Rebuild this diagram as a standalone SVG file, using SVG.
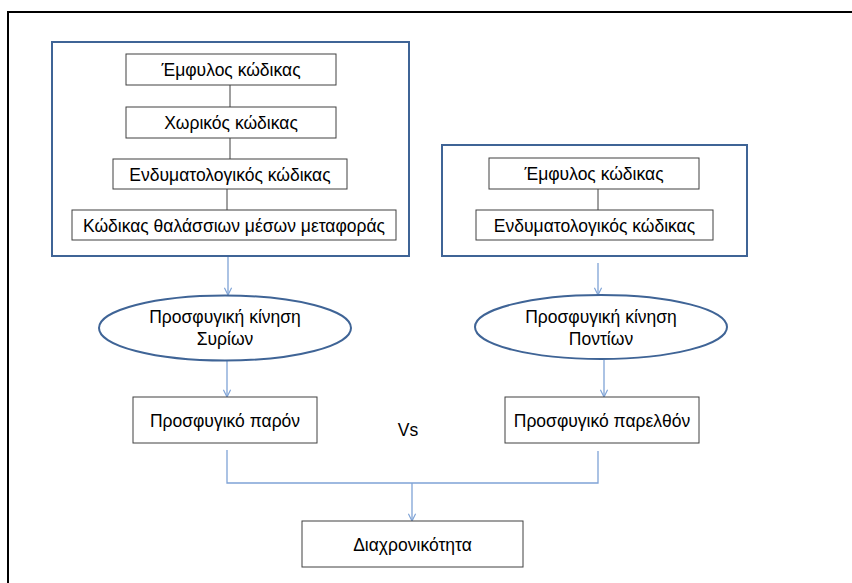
<svg xmlns="http://www.w3.org/2000/svg" width="852" height="583" viewBox="0 0 852 583">
<defs>
<style>
.box{fill:#fff;stroke:#404040;stroke-width:1}
.group{fill:none;stroke:#3f6496;stroke-width:2}
.ell{fill:#fff;stroke:#3f6496;stroke-width:2}
.t{font-family:"Liberation Sans",Arial,sans-serif;font-size:17.5px;fill:#000;text-anchor:middle}
.ln{stroke:#404040;stroke-width:1;fill:none}
.bl{stroke:#7fa3d6;stroke-width:1.3;fill:none}
</style>
<marker id="ah" viewBox="0 0 10 10" refX="9" refY="5" markerWidth="9" markerHeight="9" markerUnits="userSpaceOnUse" orient="auto">
<path d="M1,1 L9,5 L1,9" fill="none" stroke="#7fa3d6" stroke-width="1.3"/>
</marker>
</defs>
<rect width="852" height="583" fill="#fff"/>
<path d="M8,583 V12 H852" fill="none" stroke="#000" stroke-width="2"/>
<g id="group-left"><rect class="group" x="52" y="42" width="357" height="214"/></g>
<g id="group-right"><rect class="group" x="442" y="145" width="305" height="111"/></g>
<g id="connectors">
<line class="ln" x1="230" y1="85" x2="230" y2="107"/>
<line class="ln" x1="230" y1="138" x2="230" y2="159"/>
<line class="ln" x1="227" y1="189" x2="227" y2="210"/>
<line class="ln" x1="598" y1="189" x2="598" y2="210"/>
<line class="bl" x1="228" y1="257" x2="228" y2="295" marker-end="url(#ah)"/>
<line class="bl" x1="598" y1="263" x2="598" y2="295" marker-end="url(#ah)"/>
<line class="bl" x1="227" y1="361" x2="227" y2="397" marker-end="url(#ah)"/>
<line class="bl" x1="604" y1="360" x2="604" y2="397" marker-end="url(#ah)"/>
<path class="bl" d="M227,450 V483 H598 V451"/>
<line class="bl" x1="412" y1="483" x2="412" y2="521" marker-end="url(#ah)"/>
</g>
<g id="n1"><rect class="box" x="126" y="54" width="210" height="31"/><text class="t" x="231" y="76">Έμφυλος κώδικας</text></g>
<g id="n2"><rect class="box" x="126" y="107" width="210" height="31"/><text class="t" x="231" y="129">Χωρικός κώδικας</text></g>
<g id="n3"><rect class="box" x="113" y="159" width="234" height="30"/><text class="t" x="230" y="180.5">Ενδυματολογικός κώδικας</text></g>
<g id="n4"><rect class="box" x="72" y="210" width="324" height="30"/><text class="t" x="234" y="231.5">Κώδικας θαλάσσιων μέσων μεταφοράς</text></g>
<g id="n5"><rect class="box" x="489" y="158" width="210" height="31"/><text class="t" x="594" y="180">Έμφυλος κώδικας</text></g>
<g id="n6"><rect class="box" x="476" y="210" width="237" height="30"/><text class="t" x="594.5" y="231.5">Ενδυματολογικός κώδικας</text></g>
<g id="e1"><ellipse class="ell" cx="225" cy="328" rx="126" ry="32.5"/><text class="t" x="225" y="323">Προσφυγική κίνηση</text><text class="t" x="225" y="345">Συρίων</text></g>
<g id="e2"><ellipse class="ell" cx="601" cy="327" rx="126" ry="32"/><text class="t" x="601" y="323">Προσφυγική κίνηση</text><text class="t" x="601" y="345">Ποντίων</text></g>
<g id="n7"><rect class="box" x="133" y="397" width="184" height="46"/><text class="t" x="225" y="426.5">Προσφυγικό παρόν</text></g>
<g id="n8"><rect class="box" x="505" y="397" width="194" height="46"/><text class="t" x="602" y="426.5">Προσφυγικό παρελθόν</text></g>
<g id="vs"><text class="t" x="408" y="436">Vs</text></g>
<g id="n9"><rect class="box" x="302" y="521" width="221" height="46"/><text class="t" x="412.5" y="550.5">Διαχρονικότητα</text></g>
</svg>
